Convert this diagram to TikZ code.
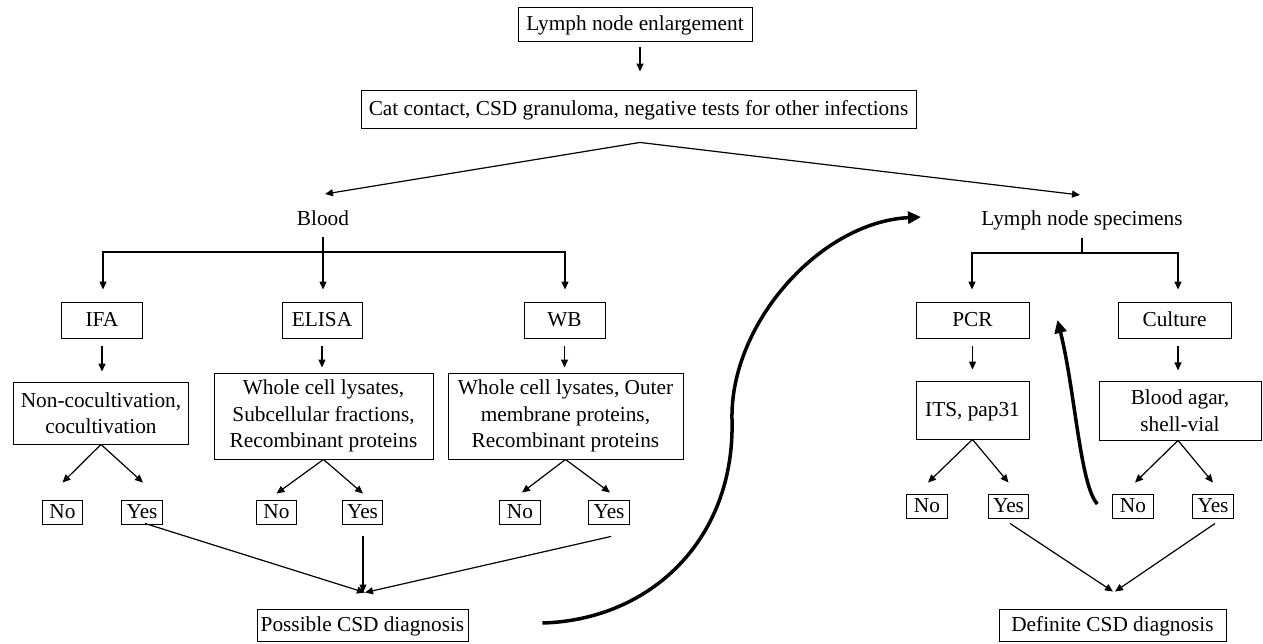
\documentclass[tikz,border=0pt]{standalone}
\usepackage{fontspec}
\setmainfont{Liberation Serif}
\usetikzlibrary{arrows.meta,calc}
\begin{document}
\begin{tikzpicture}[x=1pt,y=-1pt,
  font=\fontsize{21.3}{26.5}\selectfont,
  box/.style={draw, line width=0.9pt, inner sep=0pt, align=center},
  sbox/.style={box, text height=15pt, text depth=3pt},
  yn/.style={box, text height=15pt, text depth=3pt, minimum width=40.5pt, minimum height=24pt},
  lbl/.style={inner sep=0pt, text height=15pt, text depth=3pt},
  arr/.style={-{Triangle[length=8pt,width=7pt]}, line width=1.2pt},
  bigarr/.style={-{Triangle[length=13pt,width=12pt]}, line width=3.5pt},
  line join=miter
]
\useasboundingbox (0,0) rectangle (1263,643);

% nodes
\node[sbox, minimum width=234pt, minimum height=34pt] (top) at (635,24) {Lymph node enlargement};
\node[sbox, minimum width=555pt, minimum height=38pt] (cat) at (638.5,109) {Cat contact, CSD granuloma, negative tests for other infections};
\node[lbl] (blood) at (323,219) {Blood};
\node[lbl] (lns) at (1082,219) {Lymph node specimens};

\node[sbox, minimum width=81pt, minimum height=36pt] (ifa) at (102,320) {IFA};
\node[sbox, minimum width=80pt, minimum height=36pt] (elisa) at (322,320) {ELISA};
\node[sbox, minimum width=81pt, minimum height=36pt] (wb) at (564.5,320) {WB};
\node[sbox, minimum width=113pt, minimum height=36pt] (pcr) at (972.5,320) {PCR};
\node[sbox, minimum width=113pt, minimum height=36pt] (culture) at (1174.5,320) {Culture};

\node[box, minimum width=175pt, minimum height=62pt] (noncoc) at (101,413) {Non-cocultivation,\\cocultivation};
\node[box, minimum width=219pt, minimum height=86pt] (elisasub) at (323.5,416) {Whole cell lysates,\\Subcellular fractions,\\Recombinant proteins};
\node[box, minimum width=235pt, minimum height=86pt] (wbsub) at (565.5,416) {Whole cell lysates, Outer\\membrane proteins,\\Recombinant proteins};
\node[sbox, minimum width=113pt, minimum height=58pt] (its) at (972.5,410) {ITS, pap31};
\node[box, minimum width=162pt, minimum height=59pt] (agar) at (1180,410.5) {Blood agar,\\shell-vial};

\node[yn] (no1) at (62.5,512) {No};
\node[yn] (yes1) at (142,512) {Yes};
\node[yn] (no2) at (276.5,512) {No};
\node[yn] (yes2) at (362.5,512) {Yes};
\node[yn] (no3) at (520,512) {No};
\node[yn] (yes3) at (609,512) {Yes};
\node[yn] (no4) at (927,506) {No};
\node[yn] (yes4) at (1008.5,506) {Yes};
\node[yn] (no5) at (1133,506) {No};
\node[yn] (yes5) at (1213,506) {Yes};

\node[sbox, minimum width=211pt, minimum height=32pt] (possible) at (362.5,625) {Possible CSD diagnosis};
\node[sbox, minimum width=227pt, minimum height=32pt] (definite) at (1112.5,625) {Definite CSD diagnosis};

% top arrows
\draw[arr] ($(top.south)+(5,6)$) -- ($(cat.north)+(1.5,-18)$);
\coordinate (ap) at ($(cat.south)+(1.5,14)$);
\coordinate (bl) at (325,194);
\coordinate (lr) at (1080,195);
\draw[arr] (ap) -- (bl);
\draw[arr] (ap) -- (lr);

% blood branches
\coordinate (bj) at (323,252);
\coordinate (hl) at (103,252);
\coordinate (hr) at (565,252);
\draw[arr] ($(blood.south)+(0,9)$) -- ($(elisa.north)+(1,-12)$);
\draw[arr, shorten >=12pt] (bj) -- (hl) -- (hl |- ifa.north);
\draw[arr, shorten >=12pt] (bj) -- (hr) -- (hr |- wb.north);

% lymph node specimen branches
\coordinate (lj) at (1082,253);
\coordinate (ll) at (972,253);
\coordinate (lrr) at (1178,253);
\draw[line width=1.8pt] ($(lns.south)+(0,10)$) -- (lj);
\draw[arr, shorten >=12pt] (lj) -- (ll) -- (ll |- pcr.north);
\draw[arr, shorten >=12pt] (lj) -- (lrr) -- (lrr |- culture.north);

% test to method arrows
\draw[arr, shorten <=8pt, shorten >=10pt] (ifa.south) -- (ifa.south |- noncoc.north);
\draw[arr, shorten <=8pt, shorten >=5pt] (elisa.south) -- (elisa.south |- elisasub.north);
\draw[arr, shorten <=8pt, shorten >=5pt] (wb.south) -- (wb.south |- wbsub.north);
\draw[arr, shorten <=8pt, shorten >=11pt] (pcr.south) -- (pcr.south |- its.north);
\draw[arr, shorten <=8pt, shorten >=11pt] ($(culture.south)+(3.5,0)$) -- ($(culture.south)+(3.5,43)$);

% fans
\draw[arr] (noncoc.south) -- ($(no1.north)+(0,-17)$);
\draw[arr] (noncoc.south) -- ($(yes1.north)+(1,-17)$);
\draw[arr] (elisasub.south) -- ($(no2.north)+(0,-6)$);
\draw[arr] (elisasub.south) -- ($(yes2.north)+(0.5,-6)$);
\draw[arr] (wbsub.south) -- ($(no3.north)+(2,-7)$);
\draw[arr] (wbsub.south) -- ($(yes3.north)+(1,-7)$);
\draw[arr] (its.south) -- ($(no4.north)+(1,-11)$);
\draw[arr] (its.south) -- ($(yes4.north)+(0,-11)$);
\draw[arr] ($(agar.south)+(-2,0)$) -- ($(no5.north)+(2,-11)$);
\draw[arr] ($(agar.south)+(-2,0)$) -- ($(yes5.north)+(0,-11)$);

% yes to diagnosis
\draw[arr] ($(yes1.south)+(3,-1)$) -- ($(possible.north)+(2.5,-16)$);
\draw[arr] ($(yes2.south)+(0.5,12)$) -- ($(possible.north)+(0.5,-16)$);
\draw[arr] ($(yes3.south)+(2,12)$) -- ($(possible.north)+(2.5,-16)$);
\draw[arr] ($(yes4.south)+(1.5,5)$) -- ($(definite.north)+(0.5,-17)$);
\draw[arr] ($(yes5.south)+(2,5)$) -- ($(definite.north)+(2.5,-17)$);

% curved arrows
\coordinate (cs) at ($(possible.east)+(74,-2)$);
\coordinate (ce) at (921,217);
\draw[bigarr] (cs) .. controls (650,620) and (735,540) .. (732,420)
  .. controls (729.6,324) and (820,222) .. (ce);
\coordinate (ds) at ($(no5.west)+(-15,-2)$);
\coordinate (de) at ($(pcr.east)+(28,0)$);
\draw[bigarr] (ds) .. controls (1080,485) and (1075,390) .. (de);
\end{tikzpicture}
\end{document}
